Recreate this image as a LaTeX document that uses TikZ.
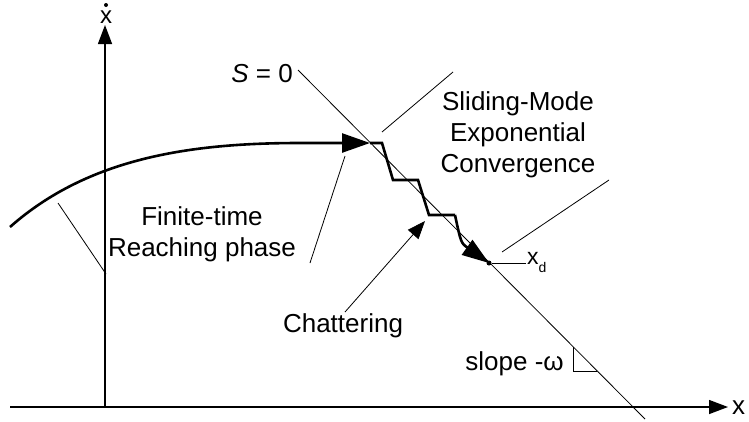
\documentclass[tikz,border=0pt]{standalone}
\usepackage{fontspec}
\setmainfont{Liberation Sans}
\usetikzlibrary{arrows.meta}

\begin{document}
\begin{tikzpicture}[x=1pt,y=-1pt,
  lbl/.style={font=\fontsize{26}{31}\selectfont, inner sep=0pt, align=center},
  thin/.style={line width=0.8pt},
  axis/.style={line width=1.4pt},
  traj/.style={line width=2.6pt, line join=miter},
  bighead/.style={-{Triangle[length=28pt,width=19pt]}},
  endhead/.style={-{Triangle[length=27pt,width=18pt]}},
  axhead/.style={-{Triangle[length=19pt,width=14pt]}},
  smallhead/.style={-{Triangle[length=18pt,width=14pt]}}]
\useasboundingbox (0,0) rectangle (749,421);

% axes
\coordinate (o) at (105,407);
\coordinate (xl) at (10,407);
\coordinate (xr) at (728,407);
\coordinate (yt) at (105,25);
\draw[axis,axhead] (xl) -- (xr);
\draw[axis,axhead] (o) -- (yt);
\node[lbl, anchor=west] (xlab) at (732,408) {x};
\node[font=\fontsize{24}{24}\selectfont, inner sep=0pt] (ylab) at (106,17) {x};
\fill (106,5) circle (2);

% sliding surface S = 0
\coordinate (s1) at (298,70);
\coordinate (s2) at (645,419);
\draw[thin] (s1) -- (s2);
\node[lbl, anchor=east] (slab) at (293,74) {\textit{S} = 0};

% slope marker
\coordinate (t1) at (573,347);
\coordinate (t2) at (573,371);
\coordinate (t3) at (597,371);
\draw[thin] (t1) -- (t2) -- (t3);
\node[lbl, anchor=east] (slope) at (564,364) {slope -ω};

% reaching trajectory
\coordinate (r0) at (10,227);
\coordinate (r1) at (300,143);
\coordinate (hit) at (370,143);
\draw[traj,bighead] (r0) .. controls (88,158) and (190,143) .. (r1) -- (hit);

% chattering along the surface
\coordinate (z0) at (382,143);
\coordinate (z1) at (393,180);
\coordinate (z2) at (418,180);
\coordinate (z3) at (429,215);
\coordinate (z4) at (455,215);
\draw[traj] (hit) -- (z0) -- (z1) -- (z2) -- (z3) -- (z4);

% equilibrium point
\node[circle, fill, inner sep=0pt, minimum size=5pt] (xd) at (489,263) {};
\draw[traj,endhead] (z4) .. controls (461,243) .. (xd.center);
\coordinate (xdl) at (526,263);
\draw[thin] (xd) -- (xdl);
\node[font=\fontsize{23}{23}\selectfont, inner sep=0pt, anchor=base west] (xdlab) at (527,264)
  {x\raisebox{-8pt}{\fontsize{14}{14}\selectfont d}};

% sliding-mode label
\node[lbl] (slide) at (518,135) {Sliding-Mode\\Exponential\\Convergence};
\coordinate (a1) at (382,132);
\coordinate (a2) at (453,72);
\coordinate (b1) at (502,252);
\coordinate (b2) at (609,180);
\draw[thin] (a1) -- (a2);
\draw[thin] (b1) -- (b2);

% reaching-phase label
\node[lbl] (reach) at (202,234) {Finite-time\\Reaching phase};
\coordinate (c1) at (58,203);
\coordinate (c2) at (106,274);
\coordinate (d1) at (345,156);
\coordinate (d2) at (310,263);
\draw[thin] (c1) -- (c2);
\draw[thin] (d1) -- (d2);

% chattering label
\node[lbl] (chat) at (343,326) {Chattering};
\coordinate (e1) at (345,312);
\coordinate (e2) at (425,221);
\draw[thin,smallhead] (e1) -- (e2);
\end{tikzpicture}
\end{document}
